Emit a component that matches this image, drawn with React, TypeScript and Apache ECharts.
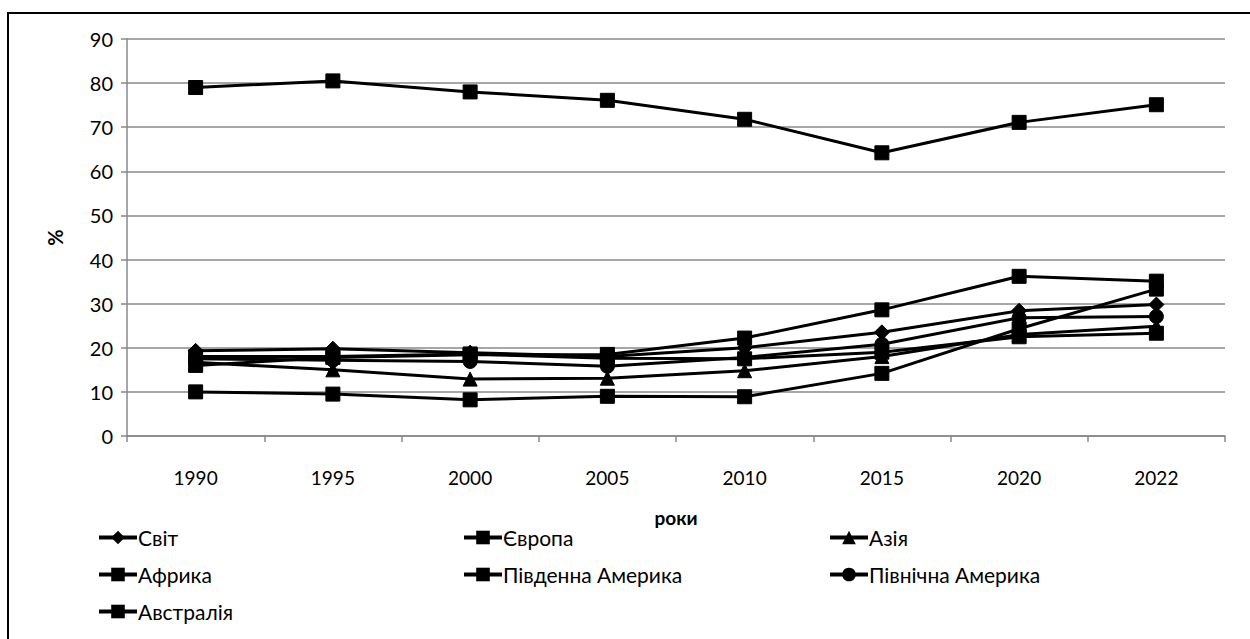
import React, { useEffect, useRef } from "react";
import * as echarts from "echarts";

const years = ["1990", "1995", "2000", "2005", "2010", "2015", "2020", "2022"];
const svit = [19.3, 19.8, 18.9, 18.0, 20.0, 23.5, 28.4, 29.8];
const yevropa = [16.0, 17.8, 18.4, 18.5, 22.2, 28.6, 36.2, 35.1];
const aziia = [16.7, 15.0, 12.9, 13.1, 14.8, 18.0, 23.0, 24.9];
const afryka = [10.0, 9.5, 8.2, 9.0, 8.9, 14.2, 24.3, 33.3];
const pivdAm = [18.0, 18.0, 18.6, 17.6, 17.5, 19.0, 22.5, 23.3];
const pivnAm = [17.5, 17.2, 16.9, 15.8, 17.8, 20.8, 26.8, 27.1];
const avstraliia = [79.0, 80.5, 78.0, 76.1, 71.8, 64.2, 71.1, 75.1];

const seriesDefs = [
  { name: "Світ", data: svit, symbol: "diamond", size: 15 },
  { name: "Європа", data: yevropa, symbol: "rect", size: 14 },
  { name: "Азія", data: aziia, symbol: "triangle", size: 14 },
  { name: "Африка", data: afryka, symbol: "rect", size: 14 },
  { name: "Південна Америка", data: pivdAm, symbol: "rect", size: 14 },
  { name: "Північна Америка", data: pivnAm, symbol: "circle", size: 14 },
  { name: "Австралія", data: avstraliia, symbol: "rect", size: 14 },
];

const FONT = "Lato, 'Open Sans', sans-serif";

export default function App() {
  const ref = useRef<HTMLDivElement>(null);
  useEffect(() => {
    if (!ref.current) return;
    const chart = echarts.init(ref.current, null, { renderer: "svg" });
    const legendBase = {
      orient: "vertical",
      itemWidth: 38,
      itemHeight: 17,
      itemGap: 16,
      lineStyle: { color: "#000", width: 4 },
      textStyle: { fontFamily: FONT, fontSize: 21, color: "#000", padding: [0, 0, 0, -4] },
      padding: 0,
    };
    chart.setOption({
      animation: false,
      backgroundColor: "#fff",
      grid: { left: 127, right: 25, top: 39, bottom: 203 },
      graphic: [
        {
          type: "rect",
          shape: { x: 8, y: 13, width: 1400, height: 800 },
          style: { fill: "none", stroke: "#000", lineWidth: 2 },
          silent: true,
        },
      ],
      legend: [
        { ...legendBase, left: 97, top: 527, data: ["Світ", "Африка", "Австралія"] },
        { ...legendBase, left: 462, top: 527, data: ["Європа", "Південна Америка"] },
        { ...legendBase, left: 828, top: 527, data: ["Азія", "Північна Америка"] },
      ],
      xAxis: {
        type: "category",
        data: years,
        boundaryGap: true,
        name: "роки",
        nameLocation: "middle",
        nameGap: 72,
        nameTextStyle: { fontFamily: FONT, fontSize: 19, fontWeight: "bold", color: "#000" },
        axisLine: { lineStyle: { color: "#888", width: 1.5 } },
        axisTick: { show: true, length: 6, lineStyle: { color: "#888", width: 1.5 } },
        axisLabel: { fontFamily: FONT, fontSize: 19, color: "#000", margin: 32 },
        splitLine: { show: false },
      },
      yAxis: {
        type: "value",
        min: 0,
        max: 90,
        interval: 10,
        name: "%",
        nameLocation: "middle",
        nameRotate: 90,
        nameGap: 62,
        nameTextStyle: { fontFamily: FONT, fontSize: 20, fontWeight: "bold", color: "#000" },
        axisLine: { show: true, lineStyle: { color: "#888", width: 1.5 } },
        axisTick: { show: true, length: 6, lineStyle: { color: "#888", width: 1.5 } },
        axisLabel: { fontFamily: FONT, fontSize: 20, color: "#000", margin: 14 },
        splitLine: { show: true, lineStyle: { color: "#888", width: 1.5 } },
      },
      series: seriesDefs.map((s) => ({
        name: s.name,
        type: "line",
        data: s.data,
        symbol: s.symbol,
        symbolSize: s.size,
        showAllSymbol: true,
        lineStyle: { color: "#000", width: 3 },
        itemStyle: { color: "#000", borderColor: "#000" },
        emphasis: { disabled: true },
      })),
    });
    return () => chart.dispose();
  }, []);
  return (
    <div
      ref={ref}
      style={{ position: "fixed", left: 0, top: 0, width: 1250, height: 639 }}
    />
  );
}
